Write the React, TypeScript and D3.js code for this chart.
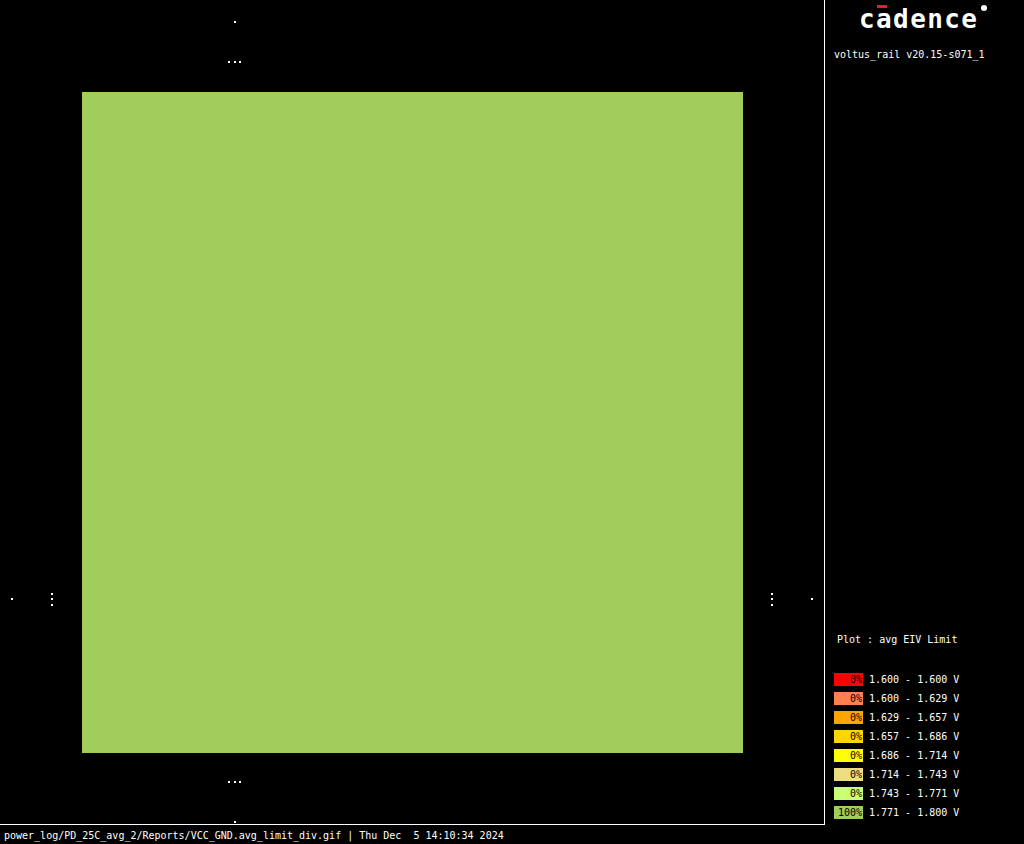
import React from "react";
import * as d3 from "d3";

const legendColors = ["#ff0000", "#ff7f50", "#ffa500", "#ffd700", "#ffff00", "#eedc82", "#caff70", "#a2cd5a"];
const legendPercents = ["0%", "0%", "0%", "0%", "0%", "0%", "0%", "100%"];
const rangeLow = ["1.600", "1.600", "1.629", "1.657", "1.686", "1.714", "1.743", "1.771"];
const rangeHigh = ["1.600", "1.629", "1.657", "1.686", "1.714", "1.743", "1.771", "1.800"];
const plotTitle = "Plot : avg EIV Limit";
const versionText = "voltus_rail v20.15-s071_1";
const footerText = "power_log/PD_25C_avg_2/Reports/VCC_GND.avg_limit_div.gif | Thu Dec  5 14:10:34 2024";
const dieColor = "#a2cd5a";

const W = 1024;
const H = 844;
const mono = "'DejaVu Sans Mono', 'Liberation Mono', monospace";

export default function App() {
  const xs = d3.scaleLinear().domain([0, 1]).range([82, 743]);
  const ys = d3.scaleLinear().domain([0, 1]).range([92, 753]);
  const rowY = d3.scaleLinear().domain([0, 1]).range([673, 692]);

  const cx = 235;
  const cy = 599;
  const dots: [number, number][] = [
    [cx, 22],
    [229, 62], [cx, 62], [240, 62],
    [229, 782], [cx, 782], [240, 782],
    [cx, 822],
    [12, cy],
    [52, 594], [52, cy], [52, 605],
    [772, 594], [772, cy], [772, 605],
    [812, cy],
  ];

  return (
    <svg width={W} height={H} style={{ position: "absolute", left: 0, top: 0, background: "#000" }}>
      <rect x={0} y={0} width={W} height={H} fill="#000" />
      <rect x={xs(0)} y={ys(0)} width={xs(1) - xs(0)} height={ys(1) - ys(0)} fill={dieColor} />
      {dots.map((d, i) => (
        <rect key={i} x={d[0] - 1} y={d[1] - 1} width={2} height={2} fill="#fff" />
      ))}
      <rect x={824} y={0} width={1} height={825} fill="#fff" />
      <rect x={0} y={824} width={825} height={1} fill="#fff" />
      <text x={859} y={28} fill="#fff" fontFamily={mono} fontSize={26} fontWeight="bold" letterSpacing={1.4}>cadence</text>
      <rect x={877} y={5} width={10} height={3} fill="#e0202e" />
      <circle cx={984} cy={8} r={3} fill="#fff" />
      <text x={834} y={58} fill="#fff" fontFamily={mono} fontSize={10}>{versionText}</text>
      <text x={837} y={643} fill="#fff" fontFamily={mono} fontSize={10}>{plotTitle}</text>
      {legendColors.map((c, i) => {
        const y = rowY(i);
        return (
          <g key={i}>
            <rect x={834} y={y} width={29} height={13} fill={c} />
            <text x={862} y={y + 9.5} fill="#000" fontFamily={mono} fontSize={10} textAnchor="end">{legendPercents[i]}</text>
            <text x={869} y={y + 9.5} fill="#fff" fontFamily={mono} fontSize={10}>{`${rangeLow[i]} - ${rangeHigh[i]} V`}</text>
          </g>
        );
      })}
      <text x={4} y={839} fill="#fff" fontFamily={mono} fontSize={10} style={{ whiteSpace: "pre" }}>{footerText}</text>
    </svg>
  );
}
